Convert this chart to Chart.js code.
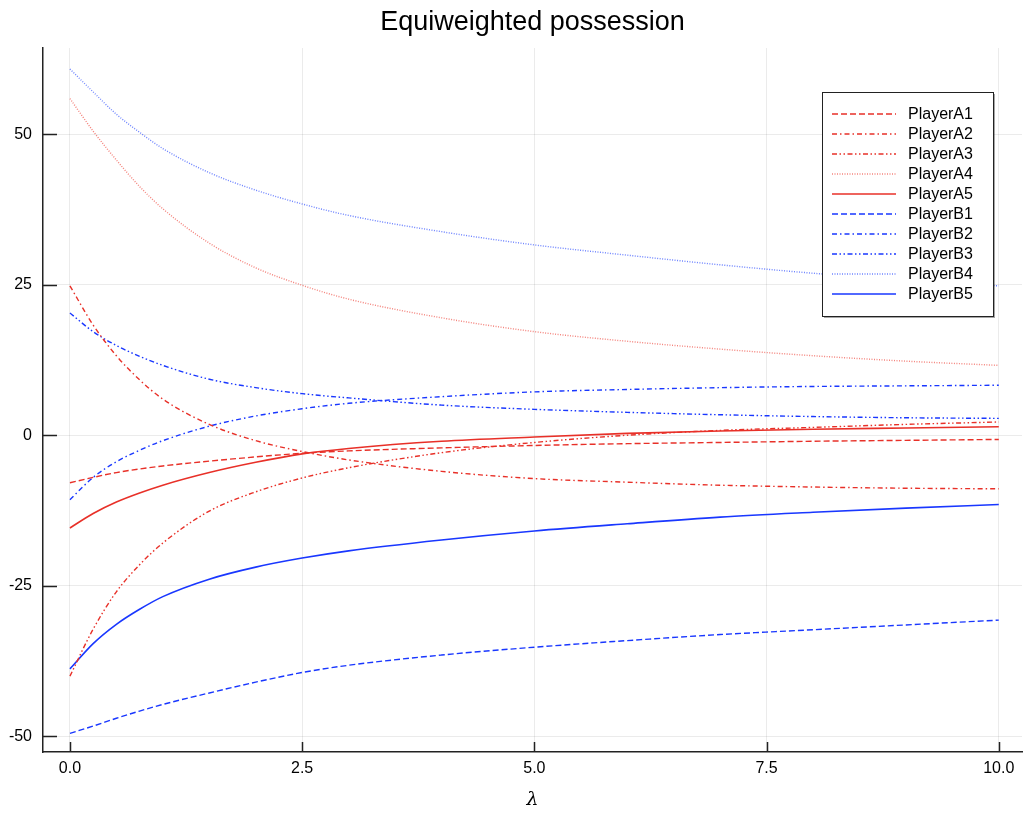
<!DOCTYPE html>
<html>
<head>
<meta charset="utf-8">
<script src="https://cdn.jsdelivr.net/npm/chart.js@4.4.1/dist/chart.umd.min.js"></script>
<style>
  html, body { margin: 0; padding: 0; background: #fff; }
  #wrap { width: 1024px; height: 814px; }
</style>
</head>
<body>
<div id="wrap"><canvas id="chart" width="1024" height="814"></canvas></div>
<script>
// lambda values
const lambdas = [0, 0.25, 0.5, 0.75, 1, 1.5, 2, 2.5, 3, 4, 5, 6, 7, 8, 9, 10];

// series values
const playerA1 = [-7.9, -7.0, -6.2, -5.6, -5.1, -4.3, -3.6, -3.0, -2.6, -2.1, -1.7, -1.4, -1.2, -1.0, -0.85, -0.7];
const playerA2 = [24.8, 18.3, 13.2, 9.2, 6.0, 1.8, -0.9, -2.7, -4.1, -6.0, -7.2, -7.8, -8.3, -8.6, -8.8, -8.9];
const playerA3 = [-40, -32.2, -26, -21.5, -17.9, -12.6, -9.4, -7.1, -5.4, -2.9, -1.2, 0, 0.8, 1.3, 1.8, 2.2];
const playerA4 = [55.9, 50.5, 45.7, 41.3, 37.6, 31.9, 27.8, 24.9, 22.6, 19.5, 17.2, 15.6, 14.3, 13.2, 12.3, 11.6];
const playerA5 = [-15.4, -13.0, -11.1, -9.6, -8.3, -6.2, -4.5, -3.1, -2.2, -1.0, -0.3, 0.3, 0.7, 1.0, 1.2, 1.4];
const playerB1 = [-49.5, -48.3, -47.0, -45.8, -44.7, -42.8, -41.0, -39.4, -38.2, -36.5, -35.2, -34.1, -33.1, -32.3, -31.5, -30.7];
const playerB2 = [-10.7, -7.0, -4.4, -2.5, -0.9, 1.5, 3.2, 4.4, 5.3, 6.4, 7.2, 7.6, 7.9, 8.1, 8.2, 8.3];
const playerB3 = [20.3, 17.2, 14.9, 13.1, 11.6, 9.3, 7.9, 6.9, 6.2, 5.0, 4.3, 3.8, 3.4, 3.1, 2.9, 2.8];
const playerB4 = [60.8, 57.0, 53.3, 50.3, 47.6, 43.6, 40.7, 38.4, 36.5, 33.8, 31.6, 29.9, 28.3, 26.9, 25.8, 24.8];
const playerB5 = [-38.8, -34.6, -31.4, -28.9, -26.8, -23.9, -21.9, -20.4, -19.2, -17.4, -15.9, -14.7, -13.6, -12.8, -12.1, -11.5];

const seriesNames = ['PlayerA1', 'PlayerA2', 'PlayerA3', 'PlayerA4', 'PlayerA5',
                     'PlayerB1', 'PlayerB2', 'PlayerB3', 'PlayerB4', 'PlayerB5'];
const seriesValues = [playerA1, playerA2, playerA3, playerA4, playerA5,
                      playerB1, playerB2, playerB3, playerB4, playerB5];

const xTicks = [0, 2.5, 5, 7.5, 10];
const yTicks = [-50, -25, 0, 25, 50];

const RED = 'rgb(232,48,40)';
const BLUE = 'rgb(25,55,255)';
const RED_DOT = 'rgba(240,90,80,0.75)';
const BLUE_DOT = 'rgba(60,90,255,0.75)';

// dash styles: dash, dashdot, dashdotdot, dot, solid
const dashes = [[6, 3], [5, 3, 1.5, 3], [5, 2.5, 1.5, 2.5, 1.5, 2.5], [1, 1.5], []];

const FONT = "'Liberation Sans', Arial, Helvetica, sans-serif";

let datasets = seriesNames.map((name, i) => {
    let isA = i < 5;
    let style = i % 5;
    let color = isA ? RED : BLUE;
    if (style === 3) color = isA ? RED_DOT : BLUE_DOT;
    return {
        label: name,
        data: lambdas.map((x, j) => ({ x: x, y: seriesValues[i][j] })),
        borderColor: color,
        backgroundColor: color,
        borderWidth: style === 4 ? 1.6 : 1.4,
        borderDash: dashes[style],
        pointRadius: 0,
        fill: false,
        cubicInterpolationMode: 'monotone'
    };
});

// tick marks pointing into the plot area
const innerTicks = {
    id: 'innerTicks',
    afterDraw(chart) {
        const ctx = chart.ctx;
        const area = chart.chartArea;
        const xs = chart.scales.x, ys = chart.scales.y;
        ctx.save();
        ctx.strokeStyle = '#222';
        ctx.lineWidth = 1.5;
        ctx.beginPath();
        xTicks.forEach(v => {
            let px = Math.round(xs.getPixelForValue(v)) + 0.5;
            ctx.moveTo(px, area.bottom);
            ctx.lineTo(px, area.bottom - 10);
        });
        yTicks.forEach(v => {
            let py = Math.round(ys.getPixelForValue(v)) + 0.5;
            ctx.moveTo(area.left, py);
            ctx.lineTo(area.left + 14, py);
        });
        ctx.stroke();
        ctx.restore();
    }
};

// legend box inside the plot, top right
const boxLegend = {
    id: 'boxLegend',
    afterDatasetsDraw(chart) {
        const ctx = chart.ctx;
        const area = chart.chartArea;
        const w = 171, h = 224;
        const left = area.right - 29 - w;
        const top = area.top + 44;
        ctx.save();
        ctx.fillStyle = 'rgba(0,0,0,0.35)';
        ctx.fillRect(left + 2, top + 2, w, h);
        ctx.fillStyle = '#fff';
        ctx.fillRect(left, top, w, h);
        ctx.strokeStyle = '#222';
        ctx.lineWidth = 1;
        ctx.strokeRect(left + 0.5, top + 0.5, w, h);
        ctx.font = '16px ' + FONT;
        ctx.textBaseline = 'middle';
        chart.data.datasets.forEach((ds, i) => {
            let y = top + 22 + i * 20;
            ctx.strokeStyle = ds.borderColor;
            ctx.lineWidth = ds.borderWidth;
            ctx.setLineDash(ds.borderDash);
            ctx.beginPath();
            ctx.moveTo(left + 10, y);
            ctx.lineTo(left + 74, y);
            ctx.stroke();
            ctx.setLineDash([]);
            ctx.fillStyle = '#000';
            ctx.fillText(ds.label, left + 86, y + 1);
        });
        ctx.restore();
    }
};

new Chart(document.getElementById('chart').getContext('2d'), {
    type: 'line',
    data: { datasets: datasets },
    plugins: [innerTicks, boxLegend],
    options: {
        responsive: false,
        animation: false,
        layout: { padding: { left: 0, right: 2, top: 0, bottom: 0 } },
        plugins: {
            legend: { display: false },
            tooltip: { enabled: false },
            title: {
                display: true,
                fullSize: false,
                text: 'Equiweighted possession',
                color: '#000',
                font: { family: FONT, size: 27, weight: 'normal', lineHeight: 1.2 },
                padding: { top: 6, bottom: 9.6 }
            }
        },
        scales: {
            x: {
                type: 'linear',
                min: -0.29,
                max: 10.25,
                afterBuildTicks: scale => { scale.ticks = xTicks.map(v => ({ value: v })); },
                afterFit: scale => { scale.height = 62; },
                grid: { color: 'rgba(0,0,0,0.08)', drawTicks: false },
                border: { display: true, color: '#222', width: 1.5 },
                ticks: {
                    color: '#000',
                    padding: 7,
                    maxRotation: 0,
                    font: { family: FONT, size: 16 },
                    callback: v => v.toFixed(1)
                },
                title: {
                    display: true,
                    text: 'λ',
                    color: '#000',
                    font: { family: "'DejaVu Serif', serif", size: 19, style: 'italic' },
                    padding: { top: 0, bottom: 3 }
                }
            },
            y: {
                type: 'linear',
                min: -52.6,
                max: 64.3,
                afterBuildTicks: scale => { scale.ticks = yTicks.map(v => ({ value: v })); },
                afterFit: scale => { scale.width = 43; },
                grid: { color: 'rgba(0,0,0,0.08)', drawTicks: false },
                border: { display: true, color: '#222', width: 1.5 },
                ticks: {
                    color: '#000',
                    padding: 11,
                    font: { family: FONT, size: 16 },
                    callback: v => String(v)
                }
            }
        }
    }
});
</script>
</body>
</html>
